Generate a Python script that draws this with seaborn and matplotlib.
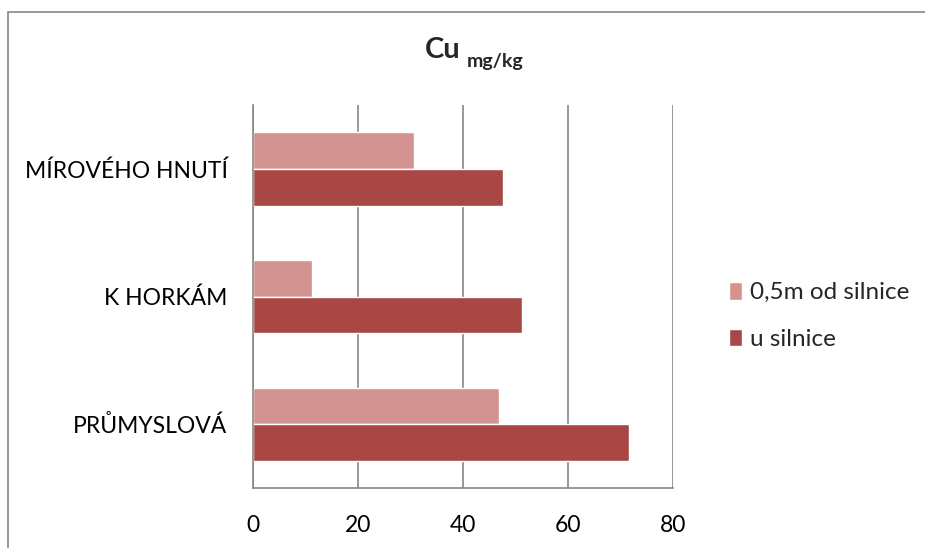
import numpy as np
import pandas as pd
import matplotlib.pyplot as plt
import seaborn as sns
from matplotlib.patches import Rectangle

streets = ["MÍROVÉHO HNUTÍ", "K HORKÁM", "PRŮMYSLOVÁ"]
series = ["0,5m od silnice", "u silnice"]
vals_05m = [30.7, 11.4, 46.8]
vals_road = [47.7, 51.2, 71.5]
xticks = [0, 20, 40, 60, 80]

df = pd.DataFrame({
    "street": streets * 2,
    "series": [series[0]] * 3 + [series[1]] * 3,
    "value": vals_05m + vals_road,
})

sns.set_style("white")
plt.rcParams["font.family"] = ["Lato", "DejaVu Sans"]

fig = plt.figure(figsize=(9.25, 5.48), dpi=100)
ax = fig.add_axes([0.273, 0.109, 0.455, 0.699])

sns.barplot(data=df, y="street", x="value", hue="series", order=streets,
            hue_order=series, palette=["#D39391", "#A94744"], orient="h",
            width=0.575, saturation=1, ax=ax, legend=True)

ax.set_xlim(0, 80)
ax.set_ylim(2.5, -0.5)
ax.set_xticks(xticks)
ax.set_xlabel("")
ax.set_ylabel("")
ax.xaxis.grid(True, color="#868686", linewidth=1.2)
ax.set_axisbelow(True)
for s in ["top", "right"]:
    ax.spines[s].set_visible(False)
for s in ["left", "bottom"]:
    ax.spines[s].set_color("#868686")
    ax.spines[s].set_linewidth(1.2)
ax.tick_params(axis="both", length=0, labelsize=16.5, colors="black")
ax.tick_params(axis="y", pad=18)
ax.tick_params(axis="x", pad=19)

handles, labels = ax.get_legend_handles_labels()
ax.legend(handles, labels, loc="center left", bbox_to_anchor=(1.08, 0.45),
          frameon=False, fontsize=17.5, handlelength=0.55, handleheight=0.75,
          handletextpad=0.3, labelspacing=1.05)

fig.text(461 / 925, 1 - 50 / 548, "Cu", fontsize=21, fontweight="bold",
         ha="right", va="center")
fig.text(467 / 925, 1 - 62 / 548, "mg/kg", fontsize=14, fontweight="bold",
         ha="left", va="center")

fig.patches.append(Rectangle((8 / 925, -0.1), 1.2, 1 - 12 / 548 + 0.1,
                             transform=fig.transFigure, fill=False,
                             edgecolor="#868686", linewidth=1.2))

fig.savefig("out.png", dpi=100)
